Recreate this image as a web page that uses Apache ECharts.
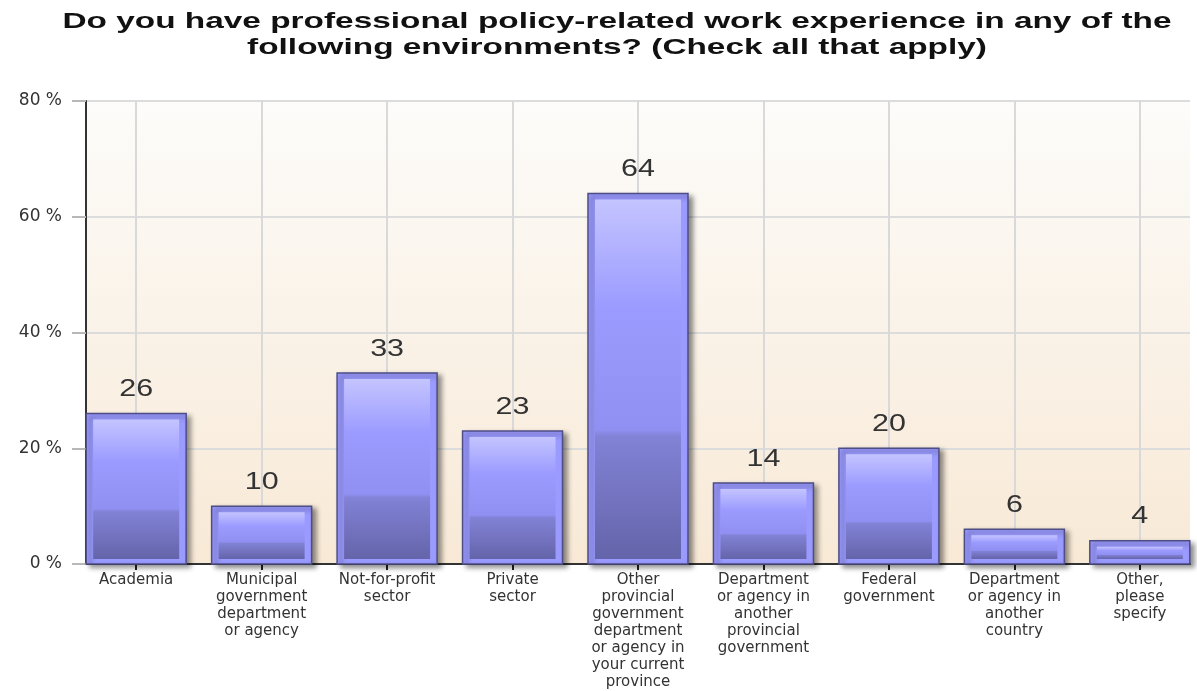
<!DOCTYPE html>
<html>
<head>
<meta charset="utf-8">
<script src="https://cdn.jsdelivr.net/npm/echarts@6/dist/echarts.min.js"></script>
<style>
html,body{margin:0;padding:0;background:#fff;}
#chart{width:1197px;height:691px;}
</style>
</head>
<body>
<div id="chart"></div>
<script>
const titleLines = [
  'Do you have professional policy-related work experience in any of the',
  'following environments? (Check all that apply)'
];
const categories = [
  'Academia',
  'Municipal\ngovernment\ndepartment\nor agency',
  'Not-for-profit\nsector',
  'Private\nsector',
  'Other\nprovincial\ngovernment\ndepartment\nor agency in\nyour current\nprovince',
  'Department\nor agency in\nanother\nprovincial\ngovernment',
  'Federal\ngovernment',
  'Department\nor agency in\nanother\ncountry',
  'Other,\nplease\nspecify'
];
const values = [26, 10, 33, 23, 64, 14, 20, 6, 4];
const yTicks = [0, 20, 40, 60, 80];

const catIdx = categories.map((c, i) => i);
const seriesData = values.map((v, i) => [i, v]);

const chart = echarts.init(document.getElementById('chart'), null, {renderer: 'canvas'});
const FONT = '"DejaVu Sans", Verdana, sans-serif';
const ARIAL = '"Liberation Sans", Arial, sans-serif';

// horizontal stretch of title text to match the wide reference lettering
const titleFont = 'bold 22px ' + ARIAL;
const mctx = document.createElement('canvas').getContext('2d');
mctx.font = titleFont;
const titleScale = 1109 / mctx.measureText(titleLines[0]).width;

function renderBar(params, api) {
  const x = api.value(0), y = api.value(1);
  const top = api.coord([x, y]);
  const base = api.coord([x, 0]);
  const w = api.size([0.797, 0])[0];
  const h = base[1] - top[1];
  const left = top[0] - w / 2;
  const inL = 7, inT = 6, inB = 5;
  return {
    type: 'group',
    children: [
      {
        type: 'rect',
        shape: {x: left, y: top[1], width: w, height: h},
        style: {
          fill: '#9a9aff', stroke: '#4e4e86', lineWidth: 1.5,
          shadowBlur: 5, shadowOffsetX: 4, shadowOffsetY: 3, shadowColor: 'rgba(0,0,0,0.45)'
        }
      },
      {
        type: 'rect',
        shape: {x: left + inL, y: top[1] + inT, width: w - 2 * inL, height: Math.max(0, h - inT - inB)},
        style: {
          fill: new echarts.graphic.LinearGradient(0, 0, 0, 1, [
            {offset: 0, color: '#c4c4ff'},
            {offset: 0.3, color: '#9b9bff'},
            {offset: 0.64, color: '#9090f2'},
            {offset: 0.66, color: '#8282d6'},
            {offset: 1, color: '#6464aa'}
          ])
        }
      },
      {
        type: 'text',
        x: top[0], y: top[1] - 24,
        scaleX: 1.27,
        style: {
          text: String(y), fill: '#333', font: '24px ' + ARIAL,
          align: 'center', verticalAlign: 'middle'
        }
      }
    ]
  };
}

chart.setOption({
  animation: false,
  backgroundColor: '#ffffff',
  graphic: [{
    type: 'text',
    x: 617, y: 9,
    scaleX: titleScale,
    style: {
      text: titleLines.join('\n'), font: titleFont, fill: '#111',
      align: 'center', verticalAlign: 'top', lineHeight: 26
    }
  }],
  grid: {
    left: 86, right: 7, top: 101, bottom: 125,
    show: true, borderWidth: 0,
    backgroundColor: new echarts.graphic.LinearGradient(0, 0, 0, 1, [
      {offset: 0, color: '#fdfcfa'},
      {offset: 0.3, color: '#fbf6ef'},
      {offset: 1, color: '#f8e9d6'}
    ])
  },
  xAxis: {
    type: 'value', min: -0.4, max: 8.4,
    axisLine: {show: true, onZero: false, lineStyle: {color: '#333', width: 2}},
    axisTick: {show: true, customValues: catIdx, length: 6, lineStyle: {color: '#222', width: 2}},
    axisLabel: {
      customValues: catIdx,
      formatter: v => categories[Math.round(v)] || '',
      fontFamily: FONT, fontSize: 15, lineHeight: 17, color: '#333', margin: 8, align: 'center'
    },
    splitLine: {show: true, lineStyle: {color: '#d9d9d9', width: 2}}
  },
  yAxis: {
    type: 'value', min: 0, max: 80, interval: 20,
    axisLine: {show: true, onZero: false, lineStyle: {color: '#333', width: 2}},
    axisTick: {show: true, length: 14, lineStyle: {color: '#b8b8b8', width: 2}},
    axisLabel: {
      formatter: v => v + ' %',
      fontFamily: FONT, fontSize: 17, color: '#333', margin: 24
    },
    splitLine: {show: true, lineStyle: {color: '#dcdcdc', width: 2}}
  },
  series: [{
    type: 'custom',
    renderItem: renderBar,
    data: seriesData,
    encode: {x: 0, y: 1},
    clip: false
  }]
});
</script>
</body>
</html>
